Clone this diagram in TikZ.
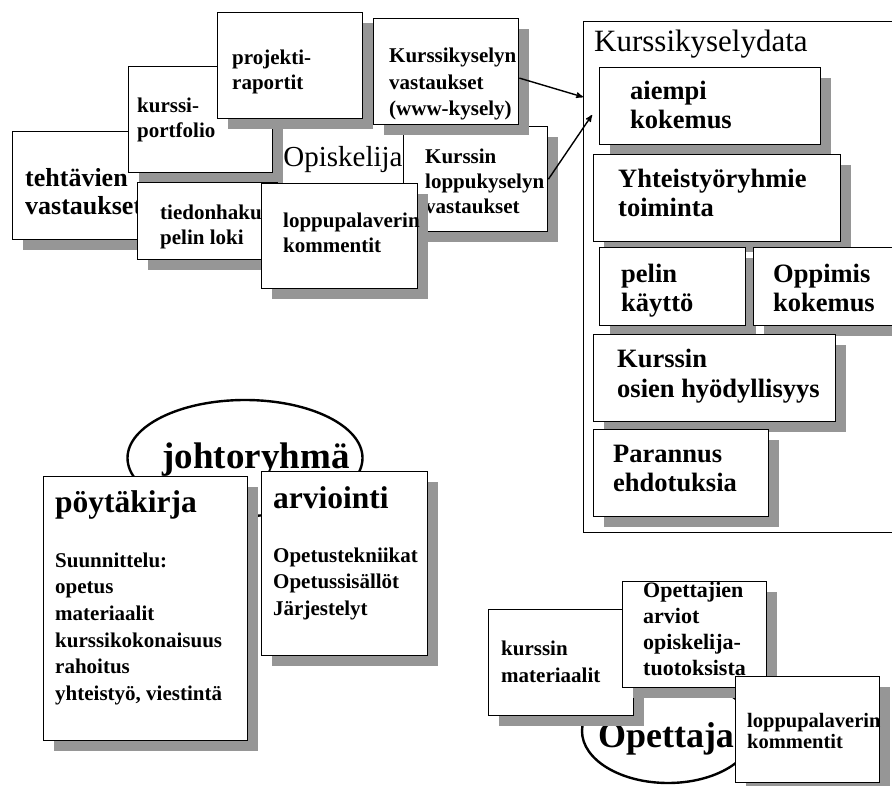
\documentclass[tikz,border=0pt]{standalone}
\usepackage{fontspec}
\setmainfont{Liberation Serif}
\usetikzlibrary{arrows}
\usetikzlibrary{shapes.geometric}
\usetikzlibrary{shadows}

\definecolor{shadowgray}{RGB}{150,150,150}
\tikzset{
  box/.style={draw, fill=white, line width=1.4pt, anchor=north west, inner sep=0pt,
    drop shadow={shadow xshift=10pt, shadow yshift=-10pt, fill=shadowgray, opacity=1}},
  txt/.style={anchor=base west, inner sep=0pt, align=left, font=\bfseries\fontsize{21}{25}\selectfont},
  big/.style={font=\bfseries\fontsize{26.5}{29}\selectfont},
  oval/.style={draw, ellipse, line width=2.4pt, fill=white, inner sep=0pt}
}

\begin{document}
\begin{tikzpicture}[x=1pt, y=-1pt]
\useasboundingbox (0,0) rectangle (892,786);
\clip (0,0) rectangle (892,786);

% opiskelija (text nodes sit on the baseline of their last line)
\node[oval, minimum width=240pt, minimum height=118pt, font=\fontsize{29}{32}\selectfont] (opiskelija) at (343,160) {Opiskelija};
\node[box, minimum width=140pt, minimum height=108pt] (tehtavat) at (12,131) {};
\node[txt, font=\bfseries\fontsize{26}{28}\selectfont] (tehtavat-t) at (25,215) {tehtävien\\vastaukset};
\node[box, minimum width=144pt, minimum height=106pt] (portfolio) at (128,66) {};
\node[txt] (portfolio-t) at (137,138) {kurssi-\\portfolio};
\node[box, minimum width=145pt, minimum height=106pt] (raportit) at (217,12) {};
\node[txt] (raportit-t) at (232,90) {projekti-\\raportit};
\node[box, minimum width=140pt, minimum height=77pt] (loki) at (137,182) {};
\node[txt] (loki-t) at (160,245) {tiedonhaku-\\pelin loki};
\node[box, minimum width=144pt, minimum height=105pt] (loppukysely) at (403,126) {};
\node[txt] (loppukysely-t) at (425,214) {Kurssin\\loppukyselyn\\vastaukset};
\node[box, minimum width=145pt, minimum height=106pt] (kysely) at (373,18) {};
\node[txt, font=\bfseries\fontsize{21}{26.5}\selectfont] (kysely-t) at (389,116) {Kurssikyselyn\\vastaukset\\(www-kysely)};
\node[box, minimum width=156pt, minimum height=105pt] (palaveri) at (261,183) {};
\node[txt] (palaveri-t) at (283,253) {loppupalaverin\\kommentit};

% kurssikyselydata
\node[draw, line width=1.2pt, anchor=north west, inner sep=0pt, minimum width=330pt, minimum height=511pt] (data) at (583,21) {};
\node[anchor=base west, inner sep=0pt, font=\fontsize{31}{34}\selectfont] (data-t) at (594,52) {Kurssikyselydata};
\node[box, minimum width=221pt, minimum height=77pt] (aiempi) at (599,67) {};
\node[txt, big] (aiempi-t) at (630,129) {aiempi\\kokemus};
\node[box, minimum width=247pt, minimum height=87pt] (ryhmat) at (593,154) {};
\node[txt, big] (ryhmat-t) at (618,217) {Yhteistyöryhmie\\toiminta};
\node[box, minimum width=146pt, minimum height=78pt] (peli) at (599,247) {};
\node[txt, big] (peli-t) at (621,312) {pelin\\käyttö};
\node[box, minimum width=160pt, minimum height=78pt] (oppiminen) at (753,247) {};
\node[txt, big] (oppiminen-t) at (773,312) {Oppimis\\kokemus};
\node[box, minimum width=242pt, minimum height=87pt] (osat) at (593,334) {};
\node[txt, big] (osat-t) at (617,397) {Kurssin\\osien hyödyllisyys};
\node[box, minimum width=175pt, minimum height=87pt] (parannus) at (593,429) {};
\node[txt, big] (parannus-t) at (613,491) {Parannus\\ehdotuksia};

\coordinate (data-in1) at (583,97);
\coordinate (data-in2) at (592,115);
\draw[black, line width=1.4pt, ->, >=stealth'] (kysely.-5) -- (data-in1);
\draw[black, line width=1.4pt, ->, >=stealth'] (loppukysely.east) -- (data-in2);

% johtoryhma
\node[oval, minimum width=235pt, minimum height=116pt] (johto) at (245,458) {};
\node[anchor=base, inner sep=0pt, font=\bfseries\fontsize{37}{40}\selectfont] (johto-t) at (256,468) {johtoryhmä};
\node[box, minimum width=204pt, minimum height=264pt] (poytakirja) at (43,476) {};
\node[txt, font=\bfseries\fontsize{31.5}{34}\selectfont] (poytakirja-t) at (55,512) {pöytäkirja};
\node[txt, font=\bfseries\fontsize{21}{26.7}\selectfont] (suunnittelu) at (55,700.5) {Suunnittelu:\\opetus\\materiaalit\\kurssikokonaisuus\\rahoitus\\yhteistyö, viestintä};
\node[box, minimum width=166pt, minimum height=184pt] (arviointi) at (261,471) {};
\node[txt, font=\bfseries\fontsize{31.5}{34}\selectfont] (arviointi-t) at (273,508) {arviointi};
\node[txt, font=\bfseries\fontsize{21}{26.7}\selectfont] (arviointi-l) at (273,615.4) {Opetustekniikat\\Opetussisällöt\\Järjestelyt};

% opettaja
\node[oval, minimum width=172pt, minimum height=104pt] (opettaja) at (668,731) {};
\node[anchor=base, inner sep=0pt, font=\bfseries\fontsize{36}{40}\selectfont] (opettaja-t) at (666,747) {Opettaja};
\node[box, minimum width=145pt, minimum height=106pt] (materiaalit) at (488,609) {};
\node[txt, font=\bfseries\fontsize{21}{27}\selectfont] (materiaalit-t) at (501,682) {kurssin\\materiaalit};
\node[box, minimum width=144pt, minimum height=106pt] (arviot) at (622,581) {};
\node[txt, font=\bfseries\fontsize{22}{26}\selectfont] (arviot-t) at (643,675) {Opettajien\\arviot\\opiskelija-\\tuotoksista};
\node[box, minimum width=144pt, minimum height=106pt] (palaveri2) at (735,676) {};
\node[txt, font=\bfseries\fontsize{20.5}{21.5}\selectfont] (palaveri2-t) at (747,748.5) {loppupalaverin\\kommentit};
\end{tikzpicture}
\end{document}
